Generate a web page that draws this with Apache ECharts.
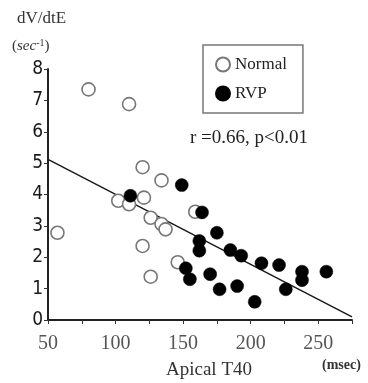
<!DOCTYPE html>
<html>
<head>
<meta charset="utf-8">
<script src="https://cdn.jsdelivr.net/npm/echarts@6/dist/echarts.min.js"></script>
<style>
  html, body { margin: 0; padding: 0; background: #fff; }
  #chart { width: 368px; height: 383px; }
</style>
</head>
<body>
<div id="chart"></div>
<script>
// Apical T40 (msec) vs dV/dtE (sec^-1)
const normalT40 = [80, 110, 120, 134, 102, 110, 121, 126, 134, 137, 57, 120, 126, 146, 159];
const normalDV = [7.35, 6.88, 4.87, 4.45, 3.8, 3.69, 3.9, 3.26, 3.06, 2.89, 2.78, 2.36, 1.38, 1.84, 3.45];

const rvpT40 = [111, 149, 164, 175, 162, 162, 185, 193, 152, 155, 170, 177, 190, 203, 208, 221, 238, 238, 256, 226];
const rvpDV = [3.96, 4.3, 3.43, 2.78, 2.52, 2.21, 2.23, 2.05, 1.65, 1.3, 1.46, 0.98, 1.08, 0.58, 1.81, 1.75, 1.54, 1.27, 1.54, 0.98];

// regression line end points
const fitT40 = [50, 275];
const fitDV = [5.12, 0.1];

const xTicks = [50, 100, 150, 200, 250];

const serif = "'Liberation Serif', 'DejaVu Serif', serif";
const narrow = "'DejaVu Sans Condensed', 'Liberation Sans Narrow', Arial, sans-serif";

const chart = echarts.init(document.getElementById("chart"));

const zip = (xs, ys) => xs.map((x, i) => [x, ys[i]]);

chart.setOption({
  animation: false,
  backgroundColor: "#fff",
  grid: { left: 48, right: 16, top: 69, bottom: 63 },
  xAxis: {
    type: "value",
    min: 50,
    max: 275,
    interval: 25,
    splitLine: { show: false },
    axisLine: { lineStyle: { color: "#222", width: 2 } },
    axisTick: { length: 4, lineStyle: { color: "#333", width: 1 } },
    axisLabel: {
      margin: 14,
      fontFamily: serif,
      fontSize: 20,
      color: "#555",
      formatter: (v) => (xTicks.includes(v) ? String(v) : ""),
    },
  },
  yAxis: {
    type: "value",
    min: 0,
    max: 8,
    interval: 1,
    splitLine: { show: false },
    axisLine: { lineStyle: { color: "#222", width: 2 } },
    axisTick: { length: 4, lineStyle: { color: "#333", width: 1 } },
    axisLabel: {
      margin: 5,
      fontFamily: narrow,
      fontSize: 19,
      color: "#1a1a1a",
    },
  },
  legend: {
    data: ["Normal", "RVP"],
    orient: "vertical",
    left: 203,
    top: 45,
    padding: [11, 16, 11, 12],
    itemGap: 12,
    itemWidth: 14,
    itemHeight: 14,
    itemStyle: { opacity: 1 },
    borderColor: "#777",
    borderWidth: 1.5,
    textStyle: { fontFamily: serif, fontSize: 17, color: "#222" },
  },
  graphic: [
    {
      type: "text",
      left: 17,
      top: 10,
      style: { text: "dV/dtE", font: "17px " + serif, fill: "#333" },
    },
    {
      type: "text",
      left: 12,
      top: 38,
      style: {
        text: "({i|sec}{s|-1})",
        font: "15px " + serif,
        fill: "#333",
        rich: {
          i: { fontStyle: "italic", fontFamily: serif, fontSize: 15, fill: "#333" },
          s: { fontFamily: serif, fontSize: 10, fill: "#333", verticalAlign: "top", padding: [0, 0, 6, 0] },
        },
      },
    },
    {
      type: "text",
      left: 190,
      top: 129,
      style: { text: "r =0.66, p<0.01", font: "19px " + serif, fill: "#222" },
    },
    {
      type: "text",
      left: 166,
      top: 361,
      style: { text: "Apical T40", font: "19px " + serif, fill: "#333" },
    },
    {
      type: "text",
      left: 322,
      top: 358,
      style: { text: "(msec)", font: "bold 14px " + serif, fill: "#333" },
    },
  ],
  series: [
    {
      name: "fit",
      type: "line",
      data: zip(fitT40, fitDV),
      symbol: "none",
      lineStyle: { color: "#1a1a1a", width: 1.5 },
      z: 1,
      silent: true,
    },
    {
      name: "Normal",
      type: "scatter",
      data: zip(normalT40, normalDV),
      symbol: "circle",
      symbolSize: 13,
      itemStyle: { color: "#fff", borderColor: "#777", borderWidth: 1.6, opacity: 1 },
      z: 2,
    },
    {
      name: "RVP",
      type: "scatter",
      data: zip(rvpT40, rvpDV),
      symbol: "circle",
      symbolSize: 13,
      itemStyle: { color: "#000", borderColor: "#000", borderWidth: 0.5, opacity: 1 },
      z: 3,
    },
  ],
});
</script>
</body>
</html>
